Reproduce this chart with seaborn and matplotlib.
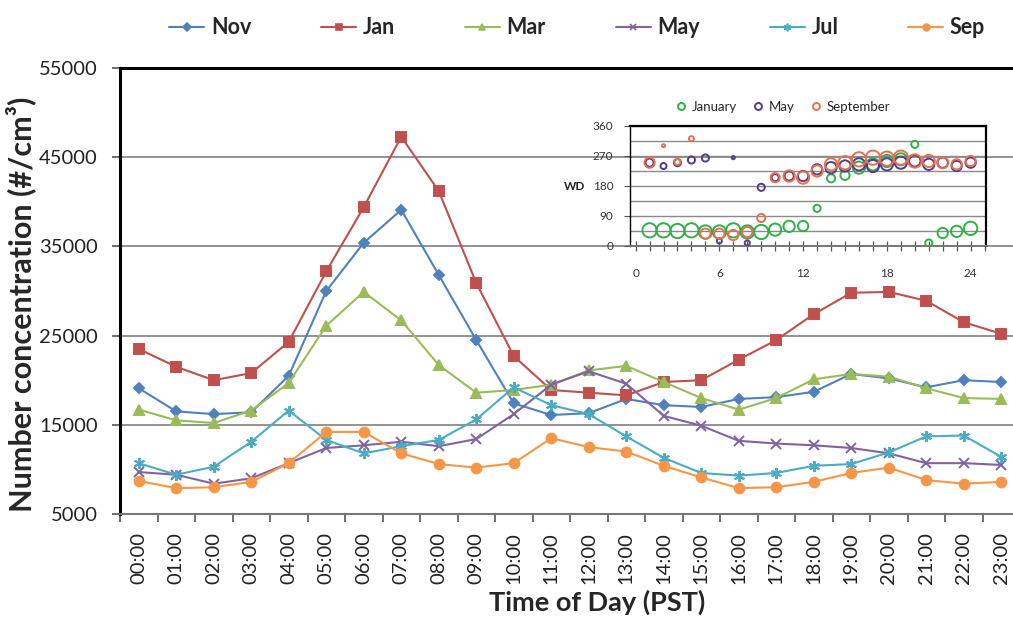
import numpy as np
import pandas as pd
import matplotlib
matplotlib.use("Agg")
import matplotlib.pyplot as plt
import seaborn as sns
from matplotlib.lines import Line2D
from matplotlib.ticker import MultipleLocator, FixedLocator

# ---- diurnal particle number concentration (#/cm3) by month ----
hours = [f"{h:02d}:00" for h in range(24)]
months = ["Nov", "Jan", "Mar", "May", "Jul", "Sep"]
y_ticks = [5000, 15000, 25000, 35000, 45000, 55000]

nov = [19100, 16500, 16200, 16400, 20500, 30000, 35400, 39100, 31800, 24500, 17400, 16100,
       16300, 17900, 17200, 17000, 17900, 18100, 18700, 20700, 20200, 19200, 20000, 19800]
jan = [23500, 21500, 20000, 20800, 24300, 32200, 39400, 47300, 41200, 30900, 22700, 18900,
       18600, 18300, 19800, 20000, 22300, 24500, 27400, 29800, 29900, 28900, 26500, 25200]
mar = [16700, 15500, 15200, 16600, 19700, 26100, 29900, 26700, 21700, 18600, 18900, 19500,
       21100, 21600, 19800, 18000, 16700, 18000, 20100, 20700, 20400, 19100, 18000, 17900]
may = [9700, 9400, 8400, 9000, 10700, 12400, 12700, 13100, 12600, 13400, 16200, 19500,
       21000, 19600, 16000, 14900, 13200, 12900, 12700, 12400, 11800, 10700, 10700, 10500]
jul = [10700, 9400, 10300, 13100, 16600, 13300, 11800, 12600, 13300, 15600, 19200, 17200,
       16200, 13700, 11300, 9600, 9300, 9600, 10400, 10600, 11900, 13700, 13800, 11400]
sep = [8700, 7900, 8000, 8600, 10700, 14200, 14200, 11800, 10600, 10200, 10700, 13500,
       12500, 12000, 10400, 9100, 7900, 8000, 8600, 9600, 10200, 8800, 8400, 8600]

# ---- inset: hourly wind direction (deg) and wind speed for three months ----
wd_hour = list(range(1, 25))
wd_months = ["January", "May", "September"]
wd_jan = [47, 47, 45, 47, 42, 42, 47, 42, 42, 49, 59, 60,
          113, 203, 212, 235, 245, 255, 260, 305, 9, 39, 44, 53]
ws_jan = [5.5, 5.5, 5.5, 5.5, 4.8, 4.8, 5.5, 4.8, 5.5, 4.0, 3.4, 2.8,
          1.3, 1.7, 2.2, 4.0, 4.0, 4.0, 4.0, 1.3, 1.3, 2.8, 3.4, 4.8]
wd_may = [250, 240, 250, 258, 264, 15, 265, 9, 176, 205, 210, 210,
          230, 235, 240, 245, 240, 245, 250, 255, 245, 250, 240, 250]
ws_may = [1.7, 0.9, 1.3, 1.3, 1.3, 0.6, 0.15, 0.6, 1.3, 1.3, 2.2, 2.8,
          2.8, 3.4, 3.4, 4.0, 4.0, 4.0, 4.0, 3.4, 3.4, 2.8, 2.8, 2.8]
wd_sep = [250, 301, 252, 322, 37, 37, 33, 42, 84, 205, 210, 205,
          225, 245, 250, 260, 265, 262, 265, 255, 255, 250, 245, 255]
ws_sep = [2.8, 0.15, 0.9, 0.6, 2.8, 2.8, 2.8, 2.8, 1.7, 2.2, 3.4, 4.0,
          3.4, 4.0, 4.8, 5.5, 5.5, 5.5, 5.5, 4.8, 4.0, 3.4, 2.8, 2.8]

palette = {"Nov": "#4F81BD", "Jan": "#C0504D", "Mar": "#9BBB59",
           "May": "#8064A2", "Jul": "#4BACC6", "Sep": "#F79646"}
markers = {"Nov": "D", "Jan": "s", "Mar": "^", "May": "x", "Jul": (6, 2, 0), "Sep": "o"}
msizes = {"Nov": 5.5, "Jan": 7, "Mar": 6.5, "May": 7, "Jul": 8, "Sep": 7}
wd_palette = {"January": "#31B04A", "May": "#553C8E", "September": "#E8704F"}

sns.set_theme(style="white")
plt.rcParams["font.family"] = ["Lato", "DejaVu Sans"]

W, H = 1013, 621
fig = plt.figure(figsize=(W / 100, H / 100), dpi=100)
ax = fig.add_axes([120 / W, 1 - 514 / H, 900 / W, 446 / H])

conc = pd.DataFrame({"Nov": nov, "Jan": jan, "Mar": mar, "May": may, "Jul": jul, "Sep": sep})
pos = np.arange(len(hours))

for m in months:
    sns.lineplot(x=pos, y=conc[m].to_numpy(), color=palette[m], marker=markers[m],
                 markersize=msizes[m], markeredgewidth=1.4, markeredgecolor=palette[m],
                 linewidth=1.5, ax=ax, legend=False)

ax.set_xlim(-0.5, len(hours) - 0.5)
ax.set_ylim(y_ticks[0], y_ticks[-1])
ax.yaxis.set_major_locator(FixedLocator(y_ticks))
ax.grid(axis="y", color="#8a8a8a", linewidth=1.3)
ax.set_axisbelow(True)

ax.xaxis.set_major_locator(FixedLocator(pos))
ax.set_xticklabels(hours, rotation=90)
ax.xaxis.set_minor_locator(FixedLocator(np.arange(len(hours) + 1) - 0.5))
ax.tick_params(axis="x", which="major", length=0, pad=13, labelsize=14.5, labelcolor="#222222")
ax.tick_params(axis="x", which="minor", length=6, width=1.2, color="#555555", direction="out", bottom=True)
ax.tick_params(axis="y", length=6, width=1.2, color="#555555", direction="out", left=True,
               pad=10, labelsize=14.5, labelcolor="#222222")

for side in ["left", "top"]:
    ax.spines[side].set_color("black")
    ax.spines[side].set_linewidth(2.2)
ax.spines["bottom"].set_color("#777777")
ax.spines["bottom"].set_linewidth(1.5)
ax.spines["right"].set_visible(False)

ax.set_xlabel("Time of Day (PST)", fontsize=19.5, fontweight="bold")
ax.xaxis.set_label_coords(0.53, -0.17)
ax.set_ylabel("Number concentration (#/cm³)", fontsize=22, fontweight="bold")
ax.yaxis.set_label_coords(-0.093, 0.471)

handles = [Line2D([], [], color=palette[m], marker=markers[m], markersize=msizes[m] * 0.7,
                  markeredgecolor=palette[m], markeredgewidth=1.2, linewidth=1.5) for m in months]
leg = ax.legend(handles, months, loc="center", bbox_to_anchor=(0.508, 1.09), ncol=6,
                frameon=False, handlelength=1.63, columnspacing=3.25, handletextpad=0.3,
                fontsize=15.5)
for t in leg.get_texts():
    t.set_fontweight("bold")

# ---- inset axes ----
axin = fig.add_axes([630 / W, 1 - 246 / H, 356 / W, 120 / H])
axin.set_facecolor("none")

wd = pd.DataFrame({
    "hour": wd_hour * 3,
    "wd": wd_jan + wd_may + wd_sep,
    "ws": ws_jan + ws_may + ws_sep,
    "month": ["January"] * 24 + ["May"] * 24 + ["September"] * 24,
})
sns.scatterplot(data=wd, x="hour", y="wd", hue="month", hue_order=wd_months,
                palette=wd_palette, size="ws", sizes=(2, 115), size_norm=(0, 6),
                legend=False, ax=axin, zorder=3)
pts = axin.collections[-1]
pts.set_edgecolors(pts.get_facecolors())
pts.set_facecolors("none")
pts.set_linewidths(1.4)

axin.set_xlim(-0.4, 25.1)
axin.set_ylim(0, 360)
axin.xaxis.set_major_locator(MultipleLocator(6))
axin.xaxis.set_minor_locator(MultipleLocator(1))
axin.yaxis.set_major_locator(MultipleLocator(90))
axin.yaxis.set_minor_locator(MultipleLocator(45))
axin.grid(which="both", axis="y", color="#8a8a8a", linewidth=1.0)
axin.tick_params(axis="x", which="both", direction="inout", length=7, width=0.9,
                 color="#555555", bottom=True, pad=12, labelsize=8.5, labelcolor="#333333")
axin.tick_params(axis="y", which="major", direction="out", length=4, width=0.8,
                 color="#555555", left=True, pad=8, labelsize=8.5, labelcolor="#333333")
axin.tick_params(axis="y", which="minor", length=0)
for side in ["left", "top", "right"]:
    axin.spines[side].set_color("black")
    axin.spines[side].set_linewidth(1.6)
axin.spines["left"].set_linewidth(1.0)
axin.spines["bottom"].set_color("#777777")
axin.spines["bottom"].set_linewidth(1.3)
axin.set_xlabel("")
axin.set_ylabel("WD", rotation=0, fontsize=8.5, fontweight="bold", va="center", ha="center")
axin.yaxis.set_label_coords(-0.155, 0.5)

wd_handles = [Line2D([], [], linestyle="none", marker="o", markersize=5, markerfacecolor="none",
                     markeredgecolor=wd_palette[m], markeredgewidth=1.4) for m in wd_months]
axin.legend(wd_handles, wd_months, loc="center", bbox_to_anchor=(0.43, 1.16), ncol=3,
            frameon=False, fontsize=9.5, handlelength=0.8, handletextpad=0.4,
            columnspacing=1.2)

fig.savefig("out.png", dpi=100)
